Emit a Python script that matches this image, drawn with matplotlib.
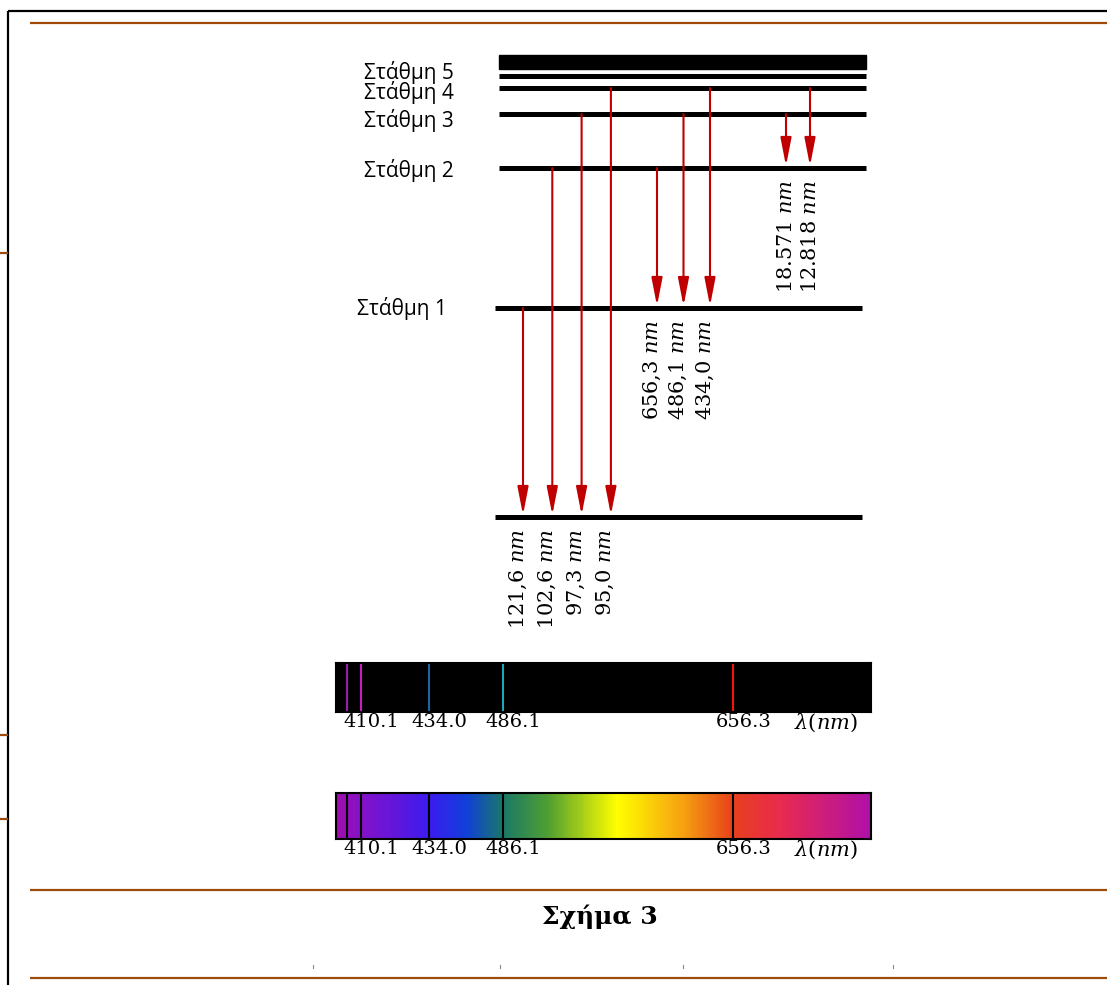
import numpy as np
import matplotlib
matplotlib.use("Agg")
import matplotlib.pyplot as plt
from matplotlib.colors import LinearSegmentedColormap
from matplotlib.patches import Rectangle

plt.rcParams['mathtext.fontset'] = 'dejavuserif'

# energy levels (ground state first), drawn top-down in page units
level_names = ['', 'Στάθμη 1', 'Στάθμη 2', 'Στάθμη 3', 'Στάθμη 4', 'Στάθμη 5']
level_y = [517, 308, 168, 114, 88, 76]

# transitions: upper level -> lower level, wavelength label
trans_upper = [1, 2, 3, 4, 2, 3, 4, 3, 4]
trans_lower = [0, 0, 0, 0, 1, 1, 1, 2, 2]
trans_labels = ['121,6', '102,6', '97,3', '95,0',
                '656,3', '486,1', '434,0',
                '18.571', '12.818']

# spectrum lines
line_wl = [397.0, 410.1, 434.0, 486.1, 656.3]
line_colors = ['#a01ab0', '#c81ec0', '#1e64a8', '#1ea8b4', '#ff1010']
tick_wl = [410.1, 434.0, 486.1, 656.3]
tick_labels = ['410.1', '434.0', '486.1', '656.3']

# gradient colour stops (wavelength, colour)
grad_wl = [380, 410.1, 434.0, 460, 486.1, 520, 570.5, 620, 656.3, 690, 750]
grad_col = ['#a20ca8', '#8412c8', '#3a1cf0', '#1040d8', '#1a7868', '#52a030',
            '#ffff00', '#f5a010', '#e8401c', '#e82a50', '#b010a8']

brown = '#a04a0a'
red = '#c00000'

fig = plt.figure(figsize=(11.07, 9.85), dpi=100)
ax = fig.add_axes([0, 0, 1, 1])
ax.set_xlim(0, 1107)
ax.set_ylim(985, 0)
ax.axis('off')

# page frame and rules
ax.plot([8, 8], [11, 985], color='black', lw=1.6, solid_capstyle='butt')
ax.plot([8, 1107], [11, 11], color='black', lw=1.6, solid_capstyle='butt')
for yy in [23, 890, 978]:
    ax.plot([30, 1107], [yy, yy], color=brown, lw=1.6, solid_capstyle='butt')
for yy in [253, 735, 819]:
    ax.plot([0, 8], [yy, yy], color=brown, lw=1.6, solid_capstyle='butt')
for xx in [313, 500, 683, 893]:
    ax.plot([xx, xx], [965, 968], color='#888888', lw=0.8)

# energy levels
for i, y in enumerate(level_y):
    x0, x1 = (495, 862) if i < 2 else (499, 866)
    ax.plot([x0, x1], [y, y], color='black', lw=3.6, solid_capstyle='butt')
ax.add_patch(Rectangle((499, 55), 367, 14, color='black'))

label_dy = {5: -4, 4: 5, 3: 6, 2: 2, 1: 0}
for i in range(1, len(level_names)):
    xr = 447 if i == 1 else 454
    ax.text(xr, level_y[i] + label_dy[i], level_names[i], ha='right', va='center',
            fontsize=15, family=['Open Sans', 'DejaVu Sans'])

# transitions
group_x = {0: (523, 29.3), 1: (657, 26.5), 2: (786, 24.0)}
count = {0: 0, 1: 0, 2: 0}
for up, lo, lab in zip(trans_upper, trans_lower, trans_labels):
    x = group_x[lo][0] + count[lo] * group_x[lo][1]
    count[lo] += 1
    tip = level_y[lo] - 2
    ax.annotate('', xy=(x, tip), xytext=(x, level_y[up]),
                arrowprops=dict(arrowstyle='-|>,head_length=17,head_width=3.3',
                                mutation_scale=1, color=red, lw=1.5,
                                shrinkA=0, shrinkB=0))
    dx = 0 if lo == 2 else -5
    ax.text(x + dx, level_y[lo] + 12, lab + r' $nm$', rotation=90,
            ha='center', va='top', fontsize=15, family='DejaVu Serif')

ax.text(600, 917, 'Σχήμα 3', ha='center', va='center', fontsize=18,
        fontweight='bold', family='DejaVu Serif')

# piecewise wavelength scale used by both spectra
scale_wl = [380, 397.0, 410.1, 434.0, 486.1, 656.3, 750]
scale_px = np.array([0, 11, 25, 93, 167, 397, 535]) / 535.0


def fwd(w):
    return np.interp(w, scale_wl, scale_px)


def inv(p):
    return np.interp(p, scale_px, scale_wl)


def spectrum_axes(top, bottom):
    W, H = 1107.0, 985.0
    a = fig.add_axes([336 / W, 1 - bottom / H, 535 / W, (bottom - top) / H])
    a.set_xscale('function', functions=(fwd, inv))
    a.set_xlim(380, 750)
    a.set_ylim(0, 1)
    a.set_xticks([])
    a.set_yticks([])
    for s in a.spines.values():
        s.set_linewidth(1.5)
    for wl, lab in zip(tick_wl, tick_labels):
        a.annotate(lab, xy=(wl, 0), xycoords=('data', 'axes fraction'),
                   xytext=(-12.5, -1), textcoords='offset points',
                   ha='left', va='top', fontsize=14, family='DejaVu Serif')
    a.annotate(r'$\lambda(nm)$', xy=(0.857, 0), xycoords='axes fraction',
               xytext=(0, 0), textcoords='offset points',
               ha='left', va='top', fontsize=15)
    return a


# emission spectrum (black)
sp1 = spectrum_axes(663, 712)
sp1.set_facecolor('black')
for wl, c in zip(line_wl, line_colors):
    sp1.axvline(wl, color=c, lw=1.5)

# continuous spectrum
sp2 = spectrum_axes(793, 839)
cmap = LinearSegmentedColormap.from_list(
    'spec', [((w - 380) / 370.0, c) for w, c in zip(grad_wl, grad_col)])
wl_edges = np.linspace(380, 750, 741)
wl_mid = 0.5 * (wl_edges[1:] + wl_edges[:-1])
sp2.pcolormesh(wl_edges, [0, 1], wl_mid[None, :], cmap=cmap, vmin=380, vmax=750,
               shading='flat')
for wl in line_wl:
    sp2.axvline(wl, color='black', lw=1.5)

fig.savefig('out.png', dpi=100)
